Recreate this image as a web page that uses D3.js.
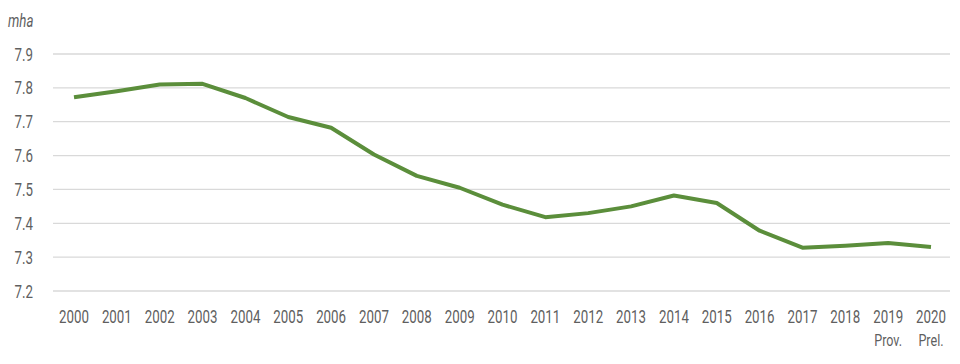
<!DOCTYPE html>
<html><head><meta charset="utf-8">
<script src="https://cdn.jsdelivr.net/npm/d3@7"></script>
<style>
body{margin:0;background:#fff;}
text{font-family:"Roboto","Liberation Sans",sans-serif;fill:#5f5f5f;}
</style></head>
<body><svg id="c" width="960" height="364"></svg>
<script>
const years = ["2000","2001","2002","2003","2004","2005","2006","2007","2008","2009","2010","2011","2012","2013","2014","2015","2016","2017","2018","2019","2020"];
const subLabels = {"2019":"Prov.","2020":"Prel."};
const values = [7.772,7.79,7.81,7.812,7.77,7.714,7.682,7.603,7.54,7.505,7.455,7.418,7.43,7.45,7.482,7.46,7.378,7.328,7.334,7.342,7.33];
const yTicks = [7.2,7.3,7.4,7.5,7.6,7.7,7.8,7.9];
const unitLabel = "mha";

const svg = d3.select("#c");
const x = d3.scalePoint().domain(years).range([74,931]);
const y = d3.scaleLinear().domain([7.2,7.9]).range([291,54]);
const SX = 0.74; // condensed look

function place(sel, px, py){
  sel.attr("transform",(d,i)=>`translate(${px(d,i)},${py(d,i)}) scale(${SX},1)`);
}

svg.append("g").selectAll("line").data(yTicks).join("line")
  .attr("x1",53).attr("x2",950)
  .attr("y1",d=>y(d)).attr("y2",d=>y(d))
  .attr("stroke","#d9d9d9").attr("stroke-width",1.3);

svg.append("g").selectAll("text").data(yTicks).join("text")
  .attr("text-anchor","end").attr("font-size",18)
  .call(place, ()=>33, d=>y(d)+6.5)
  .text(d=>d.toFixed(1));

svg.append("text").attr("font-size",18)
  .attr("font-style","italic")
  .attr("transform",`translate(8,27) scale(${SX},1)`).text(unitLabel);

const xl = svg.append("g").selectAll("g").data(years).join("g");
xl.append("text").attr("text-anchor","middle").attr("font-size",18)
  .call(place, d=>x(d), ()=>323).text(d=>d);
xl.filter(d=>subLabels[d]).append("text")
  .attr("text-anchor","middle").attr("font-size",17)
  .call(place, d=>x(d), ()=>346).text(d=>subLabels[d]);

const line = d3.line().x((d,i)=>x(years[i])).y(d=>y(d));
svg.append("path").datum(values).attr("d",line)
  .attr("fill","none").attr("stroke","#5b8e3b").attr("stroke-width",4)
  .attr("stroke-linejoin","round");
</script></body></html>
